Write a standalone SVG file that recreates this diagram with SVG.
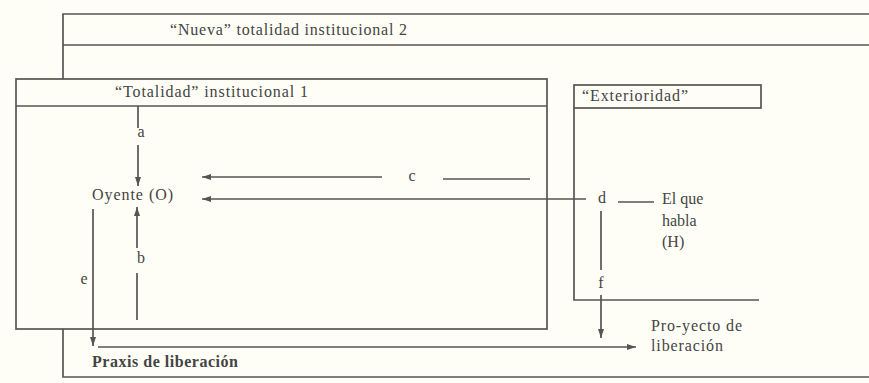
<svg xmlns="http://www.w3.org/2000/svg" width="869" height="383" viewBox="0 0 869 383">
<style>
.ln{stroke:#555;stroke-width:1.7;fill:none}
.bx{stroke:#555;stroke-width:1.7;fill:#fefef6}
.t{font-family:"Liberation Serif","Times New Roman",serif;font-size:16px;fill:#444}
.c{text-anchor:middle}
.b{font-weight:bold}
</style>
<defs>
<marker id="ah" markerUnits="userSpaceOnUse" markerWidth="10" markerHeight="8" refX="9" refY="4" orient="auto">
<path d="M0,1 L9,4 L0,7 z" fill="#555"/>
</marker>
</defs>
<rect width="869" height="383" fill="#fefef6"/>
<g id="nueva-totalidad">
<path class="ln" d="M869,14 L63,14 L63,377 L869,377 M63,45 L869,45"/>
<text class="t" x="170" y="35" textLength="237" lengthAdjust="spacing">“Nueva” totalidad institucional 2</text>
</g>
<g id="totalidad">
<rect class="bx" x="16" y="79" width="531" height="250"/>
<path class="ln" d="M16,106 L547,106"/>
<text class="t" x="115" y="97" textLength="193" lengthAdjust="spacing">“Totalidad” institucional 1</text>
</g>
<g id="exterioridad">
<rect class="ln" x="574" y="85" width="187" height="23"/>
<path class="ln" d="M574,108 L574,300 L759,300"/>
<text class="t" x="582" y="101" textLength="106" lengthAdjust="spacing">“Exterioridad”</text>
</g>
<g id="oyente">
<text class="t" x="92" y="200" textLength="81" lengthAdjust="spacing">Oyente (O)</text>
</g>
<g id="el-que-habla">
<text class="t c" x="602" y="203">d</text>
<text class="t" x="662" y="204">El que</text>
<text class="t" x="662" y="226">habla</text>
<text class="t" x="662" y="247">(H)</text>
</g>
<g id="praxis">
<text class="t b" x="92" y="367" textLength="146" lengthAdjust="spacing">Praxis de liberación</text>
</g>
<g id="proyecto">
<text class="t" x="651" y="331" textLength="91" lengthAdjust="spacing">Pro-yecto de</text>
<text class="t" x="651" y="351" textLength="72" lengthAdjust="spacing">liberación</text>
</g>
<g id="connectors">
<line class="ln" x1="138" y1="106" x2="138" y2="128"/>
<line class="ln" x1="138" y1="145" x2="138" y2="186" marker-end="url(#ah)"/>
<text class="t c" x="141" y="137">a</text>
<line class="ln" x1="137" y1="320" x2="137" y2="273"/>
<line class="ln" x1="137" y1="248" x2="137" y2="207" marker-end="url(#ah)"/>
<text class="t c" x="141" y="263">b</text>
<line class="ln" x1="530" y1="179" x2="443" y2="179"/>
<line class="ln" x1="382" y1="177" x2="202" y2="177" marker-end="url(#ah)"/>
<text class="t c" x="412" y="181">c</text>
<line class="ln" x1="586" y1="199" x2="202" y2="199" marker-end="url(#ah)"/>
<line class="ln" x1="618" y1="202" x2="654" y2="202"/>
<line class="ln" x1="601" y1="211" x2="601" y2="270"/>
<line class="ln" x1="601" y1="295" x2="601" y2="338" marker-end="url(#ah)"/>
<text class="t c" x="601" y="288">f</text>
<line class="ln" x1="93" y1="209" x2="93" y2="346" marker-end="url(#ah)"/>
<text class="t c" x="84" y="284">e</text>
<line class="ln" x1="98" y1="347" x2="636" y2="347" marker-end="url(#ah)"/>
</g>
</svg>
